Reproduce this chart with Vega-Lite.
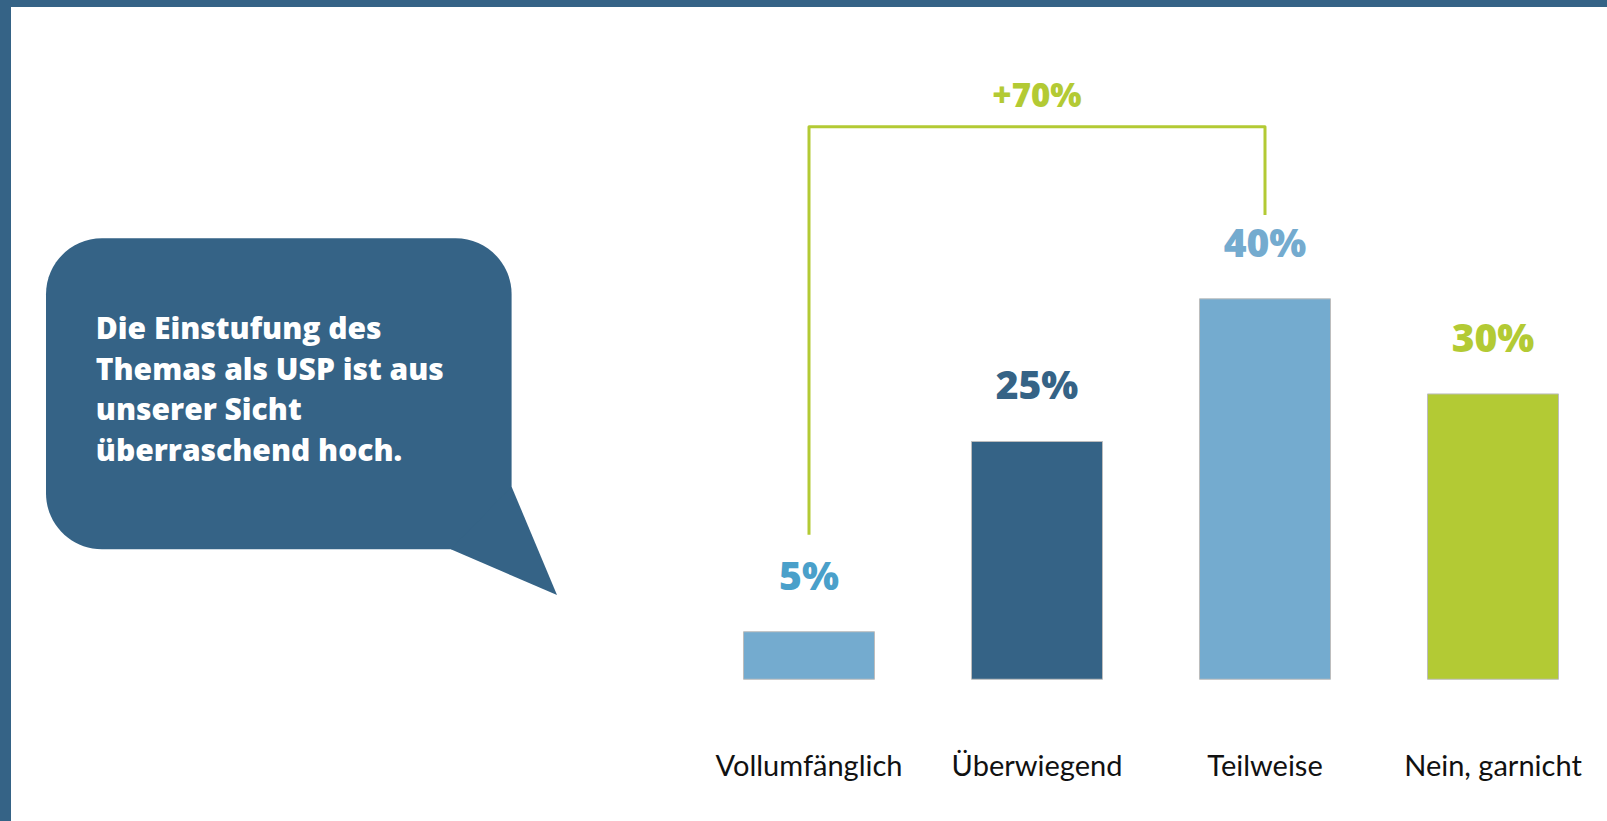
{
  "$schema": "https://vega.github.io/schema/vega-lite/v6.json",
  "background": "#356386",
  "padding": {"left": 11, "top": 7, "right": 0, "bottom": 0},
  "spacing": 0,
  "config": {"view": {"stroke": null, "fill": "white"}},
  "datasets": {
    "bars": [
      {"cat": "Vollumfänglich", "value": 5, "label": "5%"},
      {"cat": "Überwiegend", "value": 25, "label": "25%"},
      {"cat": "Teilweise", "value": 40, "label": "40%"},
      {"cat": "Nein, garnicht", "value": 30, "label": "30%"}
    ],
    "bracket": [
      {"cat": "Vollumfänglich", "y": 15.2, "i": 1},
      {"cat": "Vollumfänglich", "y": 58.1, "i": 2},
      {"cat": "Teilweise", "y": 58.1, "i": 3},
      {"cat": "Teilweise", "y": 48.8, "i": 4}
    ],
    "delta": [{"cat": "Überwiegend", "y": 60.2, "text": "+70%"}],
    "bubble": [{"x1": 35, "x2": 500.6, "y1": 231.3, "y2": 542.3}],
    "tail": [
      {"x": 439.8, "top": 542.3, "bot": 542.3},
      {"x": 500.6, "top": 479.7, "bot": 568.5},
      {"x": 546, "top": 588, "bot": 588}
    ],
    "note": [{"x": 84.8, "y": 332, "lines": ["Die Einstufung des", "Themas als USP ist aus", "unserer Sicht", "überraschend hoch."]}]
  },
  "hconcat": [
    {
      "width": 684,
      "height": 814,
      "layer": [
        {
          "data": {"name": "bubble"},
          "mark": {"type": "rect", "color": "#356386", "cornerRadius": 56},
          "encoding": {
            "x": {"field": "x1", "type": "quantitative", "scale": {"domain": [0, 684], "nice": false, "zero": false}, "axis": null},
            "x2": {"field": "x2"},
            "y": {"field": "y1", "type": "quantitative", "scale": {"domain": [0, 814], "nice": false, "zero": false, "reverse": true}, "axis": null},
            "y2": {"field": "y2"}
          }
        },
        {
          "data": {"name": "tail"},
          "mark": {"type": "area", "color": "#356386", "interpolate": "linear"},
          "encoding": {
            "x": {"field": "x", "type": "quantitative", "axis": null},
            "y": {"field": "top", "type": "quantitative", "axis": null},
            "y2": {"field": "bot"}
          }
        },
        {
          "data": {"name": "note"},
          "mark": {"type": "text", "align": "left", "baseline": "alphabetic", "font": "Open Sans", "fontWeight": 800, "fontSize": 30, "lineHeight": 40.6, "color": "white"},
          "encoding": {
            "x": {"field": "x", "type": "quantitative", "axis": null},
            "y": {"field": "y", "type": "quantitative", "axis": null},
            "text": {"field": "lines"}
          }
        }
      ]
    },
    {
      "width": 912,
      "height": 814,
      "encoding": {
        "x": {
          "field": "cat", "type": "nominal",
          "sort": ["Vollumfänglich", "Überwiegend", "Teilweise", "Nein, garnicht"],
          "scale": {"domain": ["Vollumfänglich", "Überwiegend", "Teilweise", "Nein, garnicht"], "paddingInner": 0.4254, "paddingOuter": 0.2127},
          "axis": {"title": null, "orient": "bottom", "offset": -46, "domain": false, "ticks": false, "labelPadding": 0, "labelAngle": 0, "labelBaseline": "alphabetic", "labelFont": "Lato", "labelFontSize": 29, "labelColor": "#111111", "labelLimit": 400}
        }
      },
      "resolve": {"scale": {"color": "independent"}},
      "layer": [
        {
          "data": {"name": "bars"},
          "mark": {"type": "bar", "stroke": "#BDBDBD", "strokeWidth": 1},
          "encoding": {
            "y": {"field": "value", "type": "quantitative", "scale": {"domain": [-14.9, 70.68], "nice": false, "zero": false}, "axis": null},
            "y2": {"datum": 0},
            "color": {"field": "cat", "type": "nominal", "legend": null,
              "scale": {"domain": ["Vollumfänglich", "Überwiegend", "Teilweise", "Nein, garnicht"], "range": ["#74ABCF", "#356386", "#74ABCF", "#B3CA34"]}}
          }
        },
        {
          "data": {"name": "bars"},
          "mark": {"type": "text", "baseline": "alphabetic", "dy": -42, "font": "Open Sans", "fontWeight": 800, "fontSize": 39},
          "encoding": {
            "y": {"field": "value", "type": "quantitative", "axis": null},
            "text": {"field": "label"},
            "color": {"field": "cat", "type": "nominal", "legend": null,
              "scale": {"domain": ["Vollumfänglich", "Überwiegend", "Teilweise", "Nein, garnicht"], "range": ["#4AA0CA", "#356386", "#74ABCF", "#B3CA34"]}}
          }
        },
        {
          "data": {"name": "bracket"},
          "mark": {"type": "line", "color": "#B3CA34", "strokeWidth": 3, "strokeJoin": "round"},
          "encoding": {
            "y": {"field": "y", "type": "quantitative", "axis": null},
            "order": {"field": "i", "type": "quantitative"}
          }
        },
        {
          "data": {"name": "delta"},
          "mark": {"type": "text", "baseline": "alphabetic", "font": "Open Sans", "fontWeight": 800, "fontSize": 33, "color": "#B3CA34"},
          "encoding": {
            "y": {"field": "y", "type": "quantitative", "axis": null},
            "text": {"field": "text"}
          }
        }
      ]
    }
  ]
}
